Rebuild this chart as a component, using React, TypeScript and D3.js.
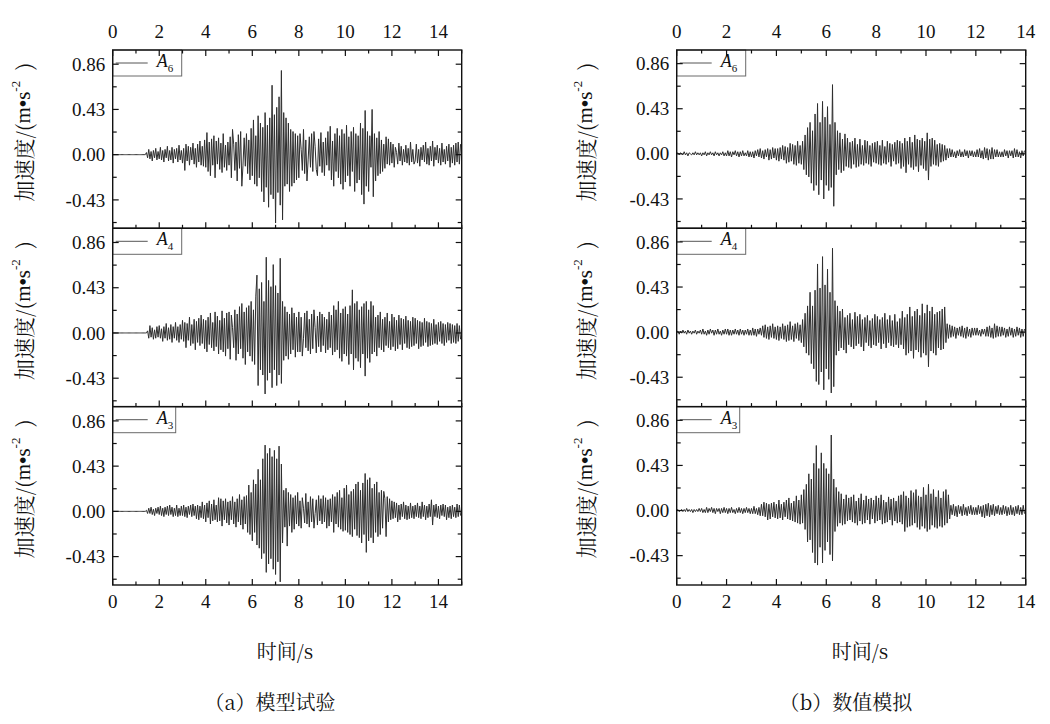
import React from "react";
import * as d3 from "d3";

// ---- data (acceleration, m/s^2), sampled every DT seconds ----
const DT = 0.05;

const L_A6 = [
  0,0,0,0,0,0,0,0,0,0,0,0,0,0,0,0,0,0,0,0,
  0,0,0,0,0,0,0,0,0,0.02,-0.03,0.05,-0.04,0.03,-0.06,0.04,-0.03,0.06,-0.05,0.03,
  -0.04,0.07,-0.05,0.04,-0.07,0.05,-0.03,0.08,-0.06,0.04,-0.05,0.07,-0.08,0.05,-0.04,0.06,-0.07,0.09,-0.05,0.04,
  -0.08,0.06,-0.15,0.1,-0.06,0.08,-0.1,0.07,-0.05,0.11,-0.09,0.06,-0.12,0.1,-0.07,0.13,-0.1,0.08,-0.11,0.14,
  -0.12,0.21,-0.16,0.12,-0.2,0.15,-0.1,0.18,-0.22,0.13,-0.09,0.16,-0.14,0.11,-0.17,0.2,-0.12,0.09,-0.15,0.12,
  -0.1,0.17,-0.22,0.24,0.1,-0.15,0.12,-0.25,0.19,-0.13,0.22,-0.3,-0.1,0.16,-0.11,0.2,-0.18,0.14,-0.24,0.25,
  -0.2,0.33,-0.28,0.18,-0.3,0.37,-0.22,0.3,-0.35,0.26,-0.45,0.4,-0.31,0.28,-0.5,0.35,-0.38,0.66,-0.42,0.38,
  -0.65,0.45,-0.36,0.55,-0.48,0.8,-0.62,0.4,-0.3,0.35,-0.28,0.3,-0.35,0.24,-0.3,0.22,-0.27,0.2,-0.24,0.18,
  -0.22,0.2,0.05,-0.15,0.24,-0.18,0.14,-0.25,-0.05,0.17,-0.12,0.2,-0.16,0.22,0.08,-0.14,-0.2,0.15,-0.11,0.21,
  -0.17,0.12,-0.2,0.16,-0.1,0.22,-0.15,0.27,-0.24,0.13,-0.3,0.2,-0.16,0.25,-0.22,0.18,-0.28,0.24,-0.33,0.2,
  -0.26,0.28,-0.2,0.17,-0.3,0.22,-0.16,0.26,-0.35,0.2,-0.27,0.18,-0.24,0.3,-0.38,0.25,-0.47,0.42,-0.3,0.22,
  -0.35,0.18,-0.12,0.43,-0.4,0.2,-0.25,0.16,-0.2,0.22,-0.18,0.14,-0.16,0.1,-0.13,0.17,-0.09,0.15,-0.1,0.12,
  -0.08,0.1,-0.12,0.07,0.02,-0.09,0.11,-0.06,0.08,-0.1,0.05,-0.07,0.09,-0.08,0.06,-0.1,0.12,-0.07,0.05,-0.09,
  -0.06,0.1,-0.08,0.05,-0.11,0.07,-0.05,0.09,-0.07,0.12,-0.09,0.06,-0.1,0.08,-0.06,0.13,-0.11,0.07,-0.05,0.09,
  -0.08,0.06,-0.1,0.11,-0.07,0.05,-0.09,0.08,-0.06,0.1,-0.12,0.07,-0.08,0.09,-0.1,0.11,-0.07,0.12,-0.09,0.1,
];

const L_A4 = [
  0,0,0,0,0,0,0,0,0,0,0,0,0,0,0,0,0,0,0,0,
  0,0,0,0,0,0,0,0,0,0,0.02,-0.05,0.07,-0.04,0.05,-0.06,0.03,-0.05,0.06,-0.04,
  0.07,-0.05,0.04,-0.08,0.06,-0.05,0.09,-0.07,0.05,-0.06,0.08,-0.09,0.06,-0.05,0.1,-0.07,0.06,-0.09,0.08,-0.06,
  0.12,-0.08,0.1,-0.14,0.09,-0.07,0.15,-0.12,0.08,-0.1,0.13,-0.16,0.11,-0.09,0.14,-0.12,0.17,-0.1,0.13,-0.15,
  0.12,-0.18,0.15,-0.11,0.19,-0.14,0.1,-0.17,0.2,-0.13,0.16,-0.2,0.12,-0.16,0.21,-0.18,0.14,-0.22,0.19,-0.15,
  0.2,-0.25,0.17,0.05,-0.14,0.22,-0.26,0.18,-0.2,0.25,-0.15,0.28,-0.24,0.2,-0.3,0.24,-0.18,0.26,-0.22,0.3,
  -0.27,0.22,-0.3,0.35,0.55,-0.5,0.42,-0.35,0.48,-0.4,0.3,-0.58,0.72,-0.45,0.5,-0.38,0.44,-0.52,0.65,-0.35,
  0.45,-0.5,0.38,-0.4,0.71,-0.48,0.3,-0.26,0.25,-0.22,0.2,-0.25,0.18,-0.2,0.24,-0.16,0.19,-0.23,0.15,-0.18,
  0.2,-0.18,0.15,-0.22,-0.05,0.19,-0.14,0.21,-0.17,0.13,-0.2,0.18,-0.15,0.22,0.05,-0.19,0.16,-0.13,0.2,-0.18,
  0.18,-0.12,0.15,-0.19,0.13,-0.16,0.2,-0.14,0.17,-0.21,0.26,-0.18,0.22,-0.16,0.3,-0.24,0.19,-0.27,0.23,-0.2,
  0.25,-0.22,0.18,-0.3,0.26,-0.2,0.41,-0.35,0.28,-0.24,0.3,-0.27,0.22,-0.33,0.25,-0.2,0.28,-0.41,0.3,-0.24,
  0.22,-0.28,0.3,-0.2,0.26,-0.18,0.15,-0.22,0.17,-0.14,0.2,-0.16,0.13,-0.18,0.15,-0.12,0.19,-0.14,0.11,-0.16,
  0.18,-0.13,0.15,-0.17,0.12,-0.15,0.17,-0.11,0.14,-0.16,0.13,-0.1,0.16,-0.14,0.12,-0.15,0.11,-0.13,0.15,-0.12,
  0.14,-0.1,0.12,-0.15,0.11,-0.13,0.1,-0.12,0.14,-0.09,0.11,-0.13,0.1,-0.12,0.09,-0.11,0.13,-0.1,0.08,-0.11,
  0.1,-0.08,0.11,-0.1,0.09,-0.12,0.08,-0.09,0.1,-0.07,0.09,-0.1,0.08,-0.09,0.07,-0.1,0.09,-0.08,0.07,-0.06,
];

const L_A3 = [
  0,0,0,0,0,0,0,0,0,0,0,0,0,0,0,0,0,0,0,0,
  0,0,0,0,0,0,0,0,0,0.01,-0.02,0.03,-0.02,0.04,-0.03,0.02,-0.04,0.03,-0.02,0.04,
  -0.03,0.05,-0.04,0.03,-0.05,0.04,-0.03,0.05,-0.04,0.06,-0.03,0.04,-0.05,0.03,-0.04,0.06,-0.05,0.03,-0.04,0.05,
  -0.04,0.06,-0.05,0.04,-0.06,0.05,-0.03,0.06,-0.05,0.07,-0.04,0.05,-0.07,0.06,-0.08,0.05,-0.06,0.09,-0.07,0.06,
  -0.1,0.08,-0.06,0.1,-0.12,0.07,-0.09,0.11,-0.08,0.06,-0.1,0.13,-0.09,0.12,-0.14,0.1,-0.08,0.12,-0.11,0.09,
  -0.13,0.1,-0.08,0.14,-0.12,0.09,-0.15,0.12,-0.1,0.16,-0.13,0.11,-0.17,0.14,-0.12,0.15,-0.2,0.25,-0.22,0.18,
  -0.28,0.3,-0.2,0.26,-0.32,0.4,-0.35,0.3,-0.45,0.5,-0.4,0.63,-0.58,0.55,-0.5,0.6,-0.45,0.52,-0.55,0.58,
  -0.6,0.5,-0.48,0.62,-0.67,0.45,-0.3,0.2,-0.15,0.22,-0.33,0.18,-0.14,0.16,-0.2,0.13,-0.17,0.15,-0.12,0.18,
  -0.14,0.1,-0.16,0.13,0.03,-0.11,0.17,-0.12,0.09,-0.15,0.14,-0.1,0.12,-0.16,-0.02,0.11,-0.13,0.15,-0.09,0.12,
  -0.12,0.15,-0.1,0.13,-0.16,0.11,-0.14,0.12,-0.1,0.16,-0.2,0.14,-0.12,0.18,-0.15,0.2,-0.17,0.13,-0.19,0.22,
  -0.18,0.25,-0.2,0.16,-0.22,0.19,-0.24,0.21,-0.17,0.26,-0.23,0.28,-0.25,0.2,-0.3,0.27,-0.22,0.36,-0.39,0.3,
  -0.28,0.32,-0.25,0.22,-0.3,0.26,-0.2,0.28,-0.24,0.18,-0.22,0.2,-0.16,0.19,0.12,-0.24,0.14,-0.1,0.12,-0.08,
  0.1,-0.07,0.09,-0.06,0.08,-0.1,0.06,-0.08,0.07,-0.05,0.09,-0.07,0.06,-0.08,0.05,-0.07,0.08,-0.06,0.05,-0.07,
  0.06,-0.05,0.08,-0.06,0.05,-0.07,0.09,-0.05,0.06,-0.08,0.05,-0.06,0.07,-0.05,0.11,-0.13,0.06,-0.05,0.07,-0.06,
  0.05,-0.07,0.06,-0.04,0.07,-0.05,0.06,-0.08,0.04,-0.06,0.05,-0.07,0.06,-0.05,0.04,-0.06,0.07,-0.05,0.06,-0.04,
];

const R_A6 = [
  0,0.01,-0.01,0.01,0,-0.01,0.02,-0.01,0.01,-0.02,0.01,0,-0.01,0.01,-0.01,0.02,-0.01,0.01,-0.01,0.01,
  -0.02,0.01,-0.01,0.02,-0.02,0.01,-0.01,0.02,-0.01,0.01,-0.02,0.02,-0.01,0.01,-0.02,0.01,-0.01,0.02,-0.02,0.01,
  -0.02,0.03,-0.02,0.02,-0.03,0.02,-0.01,0.03,-0.02,0.02,-0.03,0.02,-0.02,0.03,-0.02,0.01,-0.02,0.03,-0.03,0.02,
  -0.03,0.02,-0.04,0.03,-0.02,0.04,-0.03,0.05,-0.04,0.03,-0.05,0.04,-0.03,0.05,-0.06,0.04,-0.05,0.06,-0.04,0.05,
  -0.06,0.05,-0.07,0.06,-0.05,0.08,-0.06,0.07,-0.09,0.06,-0.08,0.1,-0.07,0.09,-0.1,0.08,-0.11,0.12,-0.09,0.08,
  -0.1,0.12,-0.15,0.18,-0.2,0.25,-0.22,0.3,-0.28,0.22,-0.35,0.38,-0.3,0.48,-0.39,0.3,-0.25,0.5,-0.43,0.35,
  -0.3,0.45,-0.35,0.28,-0.32,0.66,-0.5,0.3,-0.2,0.22,-0.15,0.2,-0.18,0.14,-0.16,0.19,-0.12,0.15,-0.13,0.11,
  -0.14,0.12,-0.1,0.15,-0.13,0.09,-0.12,0.14,-0.1,0.08,-0.11,0.13,-0.09,0.12,-0.1,0.08,-0.12,0.1,-0.08,0.11,
  -0.09,0.12,-0.1,0.08,-0.11,0.13,-0.09,0.07,-0.1,0.12,-0.08,0.1,-0.12,0.09,-0.07,0.11,-0.1,0.13,-0.09,0.12,
  -0.14,0.1,-0.12,0.15,-0.18,0.12,-0.1,0.16,-0.13,0.11,-0.15,0.18,-0.12,0.14,-0.17,0.13,-0.11,0.15,-0.14,0.12,
  -0.16,0.2,-0.25,0.14,-0.12,0.15,-0.1,0.13,-0.11,0.09,-0.12,0.1,-0.08,0.09,-0.07,0.08,-0.06,0.05,-0.04,0.05,
  -0.03,0.04,-0.03,0.02,-0.04,0.03,-0.02,0.04,-0.03,0.02,-0.03,0.04,-0.02,0.03,-0.04,0.03,-0.02,0.03,-0.03,0.02,
  -0.03,0.04,-0.03,0.05,-0.04,0.03,-0.05,0.06,-0.04,0.05,-0.06,0.04,-0.05,0.06,-0.05,0.04,-0.03,0.04,-0.03,0.02,
  -0.03,0.02,-0.03,0.04,-0.02,0.03,-0.04,0.03,-0.02,0.03,-0.04,0.05,-0.03,0.04,-0.03,0.02,-0.04,0.03,-0.02,0.03,
];

const R_A4 = [
  0,0.01,-0.02,0.01,-0.01,0.02,-0.01,0.01,-0.02,0.02,-0.01,0.01,-0.02,0.01,-0.01,0.02,-0.02,0.01,-0.01,0.02,
  -0.02,0.03,-0.02,0.01,-0.03,0.02,-0.02,0.03,-0.01,0.02,-0.03,0.02,-0.02,0.03,-0.02,0.01,-0.03,0.02,-0.02,0.03,
  -0.02,0.03,-0.03,0.02,-0.03,0.02,-0.02,0.03,-0.02,0.02,-0.03,0.03,-0.02,0.02,-0.03,0.02,-0.02,0.03,-0.03,0.02,
  -0.03,0.04,-0.03,0.03,-0.04,0.03,-0.02,0.04,-0.03,0.06,-0.05,0.07,-0.06,0.05,-0.07,0.06,-0.05,0.08,-0.06,0.05,
  -0.07,0.06,-0.08,0.05,-0.06,0.08,-0.07,0.06,-0.09,0.07,-0.08,0.1,-0.07,0.06,-0.09,0.08,-0.06,0.09,-0.08,0.07,
  -0.1,0.12,-0.14,0.18,-0.2,0.25,-0.22,0.38,-0.3,0.25,-0.35,0.4,-0.47,0.65,-0.5,0.42,-0.38,0.72,-0.55,0.45,
  -0.35,0.6,-0.45,0.38,-0.58,0.8,-0.52,0.3,-0.22,0.25,-0.18,0.2,-0.15,0.22,-0.17,0.14,-0.2,0.16,-0.12,0.18,
  -0.14,0.12,-0.16,0.19,-0.13,0.15,-0.11,0.17,-0.14,0.12,-0.18,0.14,-0.1,0.16,-0.13,0.11,-0.15,0.13,-0.12,0.17,
  -0.13,0.15,-0.1,0.12,-0.16,0.14,-0.11,0.18,-0.15,0.12,-0.1,0.16,-0.13,0.11,-0.14,0.17,-0.12,0.1,-0.15,0.13,
  -0.12,0.2,-0.16,0.14,-0.22,0.17,-0.2,0.24,-0.18,0.15,-0.25,0.2,-0.17,0.22,-0.19,0.16,-0.24,0.27,-0.2,0.18,
  -0.22,0.26,-0.33,0.2,-0.18,0.24,-0.2,0.17,-0.22,0.19,-0.15,0.2,-0.17,0.22,-0.16,0.24,-0.1,0.08,-0.06,0.07,
  -0.05,0.06,-0.04,0.05,-0.06,0.04,-0.03,0.05,-0.04,0.06,-0.05,0.04,-0.06,0.05,-0.04,0.03,-0.05,0.04,-0.03,0.04,
  -0.03,0.04,-0.03,0.02,-0.04,0.03,-0.02,0.03,-0.04,0.05,-0.04,0.06,-0.05,0.04,-0.06,0.08,-0.05,0.06,-0.04,0.05,
  -0.04,0.05,-0.03,0.04,-0.05,0.03,-0.04,0.05,-0.03,0.04,-0.05,0.03,-0.04,0.05,-0.03,0.04,-0.05,0.03,-0.04,0.03,
];

const R_A3 = [
  0,0.01,-0.01,0,0.01,-0.01,0.01,-0.01,0.02,-0.01,0.01,-0.01,0.01,-0.02,0.01,-0.01,0.01,-0.01,0.02,-0.01,
  0.02,-0.02,0.01,-0.02,0.03,-0.02,0.02,-0.01,0.03,-0.02,0.02,-0.03,0.02,-0.01,0.02,-0.03,0.02,-0.02,0.03,-0.02,
  0.02,-0.03,0.02,-0.02,0.03,-0.02,0.01,-0.03,0.02,-0.02,0.03,-0.02,0.02,-0.03,0.02,-0.02,0.03,-0.02,0.02,-0.03,
  0.02,-0.03,0.04,-0.03,0.02,-0.04,0.03,-0.05,0.06,-0.05,0.08,-0.06,0.07,-0.09,0.06,-0.08,0.07,-0.06,0.08,-0.07,
  0.06,-0.08,0.1,-0.07,0.06,-0.09,0.08,-0.06,0.1,-0.08,0.12,-0.09,0.07,-0.1,0.09,-0.11,0.14,-0.12,0.1,-0.13,
  0.15,-0.12,0.2,-0.18,0.25,-0.3,0.35,-0.28,0.3,-0.4,0.45,-0.5,0.62,-0.52,0.4,-0.35,0.55,-0.5,0.45,-0.38,
  0.4,-0.3,0.35,-0.42,0.72,-0.48,0.3,-0.2,0.22,-0.15,0.18,-0.12,0.16,-0.14,0.11,-0.13,0.15,-0.1,0.12,-0.09,
  0.13,-0.11,0.15,-0.12,0.09,-0.14,0.12,-0.1,0.16,-0.13,0.1,-0.12,0.14,-0.09,0.11,-0.13,0.12,-0.08,0.1,-0.12,
  0.14,-0.1,0.12,-0.09,0.15,-0.13,0.1,-0.12,0.08,-0.11,0.13,-0.09,0.11,-0.14,0.12,-0.1,0.09,-0.12,0.14,-0.11,
  0.15,-0.13,0.18,-0.2,0.14,-0.16,0.12,-0.15,0.19,-0.14,0.17,-0.12,0.2,-0.16,0.14,-0.18,0.13,-0.15,0.22,-0.17,
  0.15,-0.2,0.25,-0.18,0.16,-0.14,0.2,-0.16,0.13,-0.17,0.19,-0.15,0.12,-0.16,0.18,-0.14,0.2,-0.12,0.15,-0.08,
  0.05,-0.04,0.06,-0.05,0.04,-0.06,0.05,-0.03,0.04,-0.05,0.06,-0.04,0.03,-0.05,0.04,-0.03,0.05,-0.04,0.03,-0.04,
  0.03,-0.04,0.05,-0.03,0.04,-0.06,0.05,-0.07,0.06,-0.05,0.07,-0.06,0.05,-0.04,0.06,-0.05,0.04,-0.03,0.05,-0.04,
  0.03,-0.04,0.05,-0.03,0.04,-0.05,0.03,-0.04,0.05,-0.04,0.03,-0.05,0.04,-0.03,0.05,-0.04,0.03,-0.04,0.05,-0.03,
];

const SERIES_NAMES = ["6", "4", "3"];
const LEFT_SERIES = [L_A6, L_A4, L_A3];
const RIGHT_SERIES = [R_A6, R_A4, R_A3];
const LEFT_X_TICKS = [0, 2, 4, 6, 8, 10, 12, 14];
const RIGHT_X_TICKS = [0, 2, 4, 6, 8, 10, 12, 14];
const Y_TICKS = [-0.43, 0, 0.43, 0.86];
const Y_TICK_LABELS = ["-0.43", "0.00", "0.43", "0.86"];
const Y_MINOR = [-0.645, -0.215, 0.215, 0.645];
const CAPTIONS = ["（a）模型试验", "（b）数值模拟"];
const X_TITLE = "时间/s";

const SERIF = "Liberation Serif";
const CJK = "Noto Serif CJK SC";

const PANEL_TOPS = [50, 228.3, 406.7];
const PANEL_H = 178.3;

type Side = {
  key: string;
  x0: number;
  x1: number;
  tmax: number;
  xticks: number[];
  series: number[][];
  ydom: [number, number];
  ylabelX: number;
  xtitleX: number;
  captionX: number;
  legendW: number[];
};

const SIDES: Side[] = [
  { key: "L", x0: 112.7, x1: 461.7, tmax: 15, xticks: LEFT_X_TICKS, series: LEFT_SERIES, ydom: [-0.7, 0.995], ylabelX: 23, xtitleX: 285, captionX: 270, legendW: [69, 69, 63] },
  { key: "R", x0: 676.7, x1: 1025.7, tmax: 14, xticks: RIGHT_X_TICKS, series: RIGHT_SERIES, ydom: [-0.71, 0.99], ylabelX: 585, xtitleX: 860, captionX: 846, legendW: [69, 69, 63] },
];

function YLabel({ x, y }: { x: number; y: number }) {
  return (
    <text
      x={x}
      y={y}
      transform={`rotate(-90, ${x}, ${y})`}
      textAnchor="middle"
      dominantBaseline="central"
      fontSize={21}
      fontFamily={CJK}
      fill="#111"
    >
      <tspan>加速度/(</tspan>
      <tspan fontFamily={SERIF}>m</tspan>
      <tspan fontFamily={SERIF} fontWeight="bold">•</tspan>
      <tspan fontFamily={SERIF}>s</tspan>
      <tspan fontFamily={SERIF} fontSize={13} dy={-8}>-2</tspan>
      <tspan dy={8}>{"\u2002)"}</tspan>
    </text>
  );
}

function SidePlot({ side, idx }: { side: Side; idx: number }) {
  const x = d3.scaleLinear().domain([0, side.tmax]).range([side.x0, side.x1]);
  const minorX = d3.range(0, side.tmax + 1, 1);
  return (
    <g>
      {PANEL_TOPS.map((top, p) => {
        const y = d3.scaleLinear().domain(side.ydom).range([top + PANEL_H, top]);
        const data = side.series[p];
        const line = d3
          .line<number>()
          .x((_, i) => x(i * DT))
          .y((v) => y(v));
        const clipId = `clip-${side.key}-${p}`;
        const bottom = top + PANEL_H;
        const lw = side.legendW[p];
        return (
          <g key={p}>
            <clipPath id={clipId}>
              <rect x={side.x0} y={top} width={side.x1 - side.x0} height={PANEL_H} />
            </clipPath>
            <path d={line(data) || ""} fill="none" stroke="#2e2e2e" strokeWidth={1} clipPath={`url(#${clipId})`} />
            {/* legend */}
            <rect x={side.x0} y={top} width={lw} height={26} fill="white" stroke="#6a6a6a" strokeWidth={1} />
            <line x1={side.x0 + 3} x2={side.x0 + 35} y1={top + 13} y2={top + 13} stroke="#555" strokeWidth={1} />
            <text x={side.x0 + 44} y={top + 17} fontFamily={SERIF} fontSize={18} fontStyle="italic" fill="#111">
              A
              <tspan fontSize={11} fontStyle="normal" dy={5}>{SERIES_NAMES[p]}</tspan>
            </text>
            {/* bottom ticks pointing up */}
            {minorX.map((t) => (
              <line key={`b${t}`} x1={x(t)} x2={x(t)} y1={bottom} y2={bottom - (t % 2 === 0 ? 6 : 3.5)} stroke="#111" strokeWidth={1.2} />
            ))}
            {p === 0 &&
              minorX.map((t) => (
                <line key={`t${t}`} x1={x(t)} x2={x(t)} y1={top} y2={top + (t % 2 === 0 ? 6 : 3.5)} stroke="#111" strokeWidth={1.2} />
              ))}
            {/* y ticks */}
            {Y_TICKS.map((v, i) => (
              <g key={`y${i}`}>
                <line x1={side.x0} x2={side.x0 + 6} y1={y(v)} y2={y(v)} stroke="#111" strokeWidth={1.2} />
                <line x1={side.x1} x2={side.x1 - 6} y1={y(v)} y2={y(v)} stroke="#111" strokeWidth={1.2} />
                <text x={side.x0 - 7.5} y={y(v)} dy="0.35em" textAnchor="end" fontFamily={SERIF} fontSize={19} fill="#111">
                  {Y_TICK_LABELS[i]}
                </text>
              </g>
            ))}
            {Y_MINOR.map((v, i) => (
              <g key={`ym${i}`}>
                <line x1={side.x0} x2={side.x0 + 4} y1={y(v)} y2={y(v)} stroke="#111" strokeWidth={1.2} />
                <line x1={side.x1} x2={side.x1 - 4} y1={y(v)} y2={y(v)} stroke="#111" strokeWidth={1.2} />
              </g>
            ))}
            <rect x={side.x0} y={top} width={side.x1 - side.x0} height={PANEL_H} fill="none" stroke="#111" strokeWidth={1.4} />
            <YLabel x={side.ylabelX} y={top + PANEL_H / 2 - 7} />
          </g>
        );
      })}
      {/* top tick labels */}
      {side.xticks.map((t) => (
        <text key={`tl${t}`} x={x(t)} y={38} textAnchor="middle" fontFamily={SERIF} fontSize={19} fill="#111">
          {t}
        </text>
      ))}
      {/* bottom tick labels */}
      {side.xticks.map((t) => (
        <text key={`bl${t}`} x={x(t)} y={608} textAnchor="middle" fontFamily={SERIF} fontSize={19} fill="#111">
          {t}
        </text>
      ))}
      <text x={side.xtitleX} y={659} textAnchor="middle" fontFamily={CJK} fontSize={20} fill="#111">
        {X_TITLE}
      </text>
      <text x={side.captionX} y={710} textAnchor="middle" fontFamily={CJK} fontSize={20} fill="#111">
        {CAPTIONS[idx]}
      </text>
    </g>
  );
}

export default function App() {
  return (
    <svg
      width={1050}
      height={724}
      viewBox="0 0 1050 724"
      style={{ position: "absolute", left: 0, top: 0, background: "white" }}
    >
      <rect x={0} y={0} width={1050} height={724} fill="white" />
      {SIDES.map((s, i) => (
        <SidePlot key={s.key} side={s} idx={i} />
      ))}
    </svg>
  );
}
